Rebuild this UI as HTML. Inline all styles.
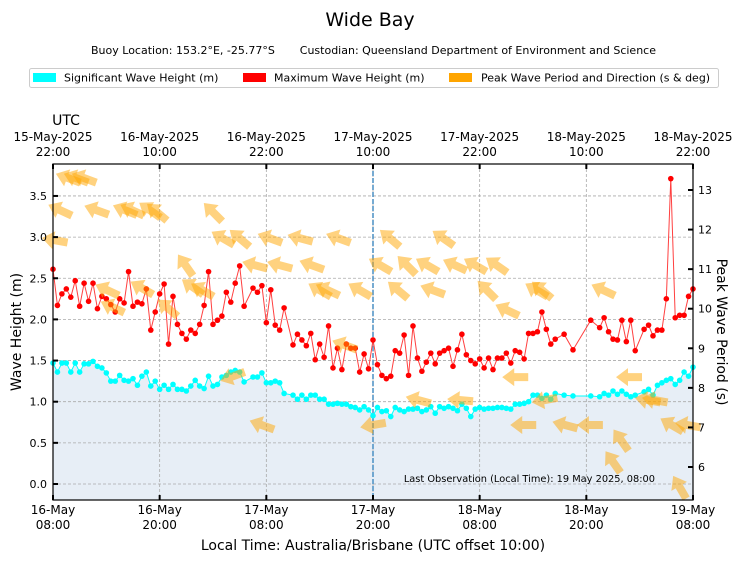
<!DOCTYPE html>
<html><head><meta charset="utf-8"><style>
html,body{margin:0;padding:0;background:#fff;}
svg{display:block;font-family:"DejaVu Sans","Liberation Sans",sans-serif;}
</style></head><body>
<svg id="chart" width="741" height="562" viewBox="0 0 741 562">
<text x="370" y="26" font-size="19" text-anchor="middle">Wide Bay</text>
<text x="91" y="54" font-size="11">Buoy Location: 153.2°E, -25.77°S</text>
<text x="656" y="54" font-size="11" text-anchor="end">Custodian: Queensland Department of Environment and Science</text>
<g>
<rect x="29.5" y="68.5" width="689" height="19" rx="2" fill="#fff" stroke="#ccc"/>
<g><rect x="33" y="73" width="23" height="9" fill="#00ffff"/><text x="64" y="81.5" font-size="11">Significant Wave Height (m)</text></g>
<g><rect x="243" y="73" width="23" height="9" fill="#ff0000"/><text x="274" y="81.5" font-size="11">Maximum Wave Height (m)</text></g>
<g><rect x="449" y="73" width="23" height="9" fill="#ffa500"/><text x="481" y="81.5" font-size="11">Peak Wave Period and Direction (s &amp; deg)</text></g>
</g>
<g id="plot"></g>
</svg>
<script>
// ---- data (hours since 16-May 08:00 local) ----
const hsTimes=[0,0.5,1,1.5,2,2.5,3,3.5,4,4.5,5,5.5,6,6.5,7,7.5,8,8.5,9,9.5,10,10.5,11,11.5,12,12.5,13,13.5,14,14.5,15,15.5,16,16.5,17,17.5,18,18.5,19,19.5,20,20.5,21,21.5,22.5,23,23.5,24,24.5,25,25.5,26,27,27.5,28,28.5,29,29.5,30,30.5,31,31.5,32,32.5,33,33.5,34,34.5,35,35.5,36,36.5,37,37.5,38,38.5,39,39.5,40,40.5,41,41.5,42,42.5,43,43.5,44,44.5,45,45.5,46,46.5,47,47.5,48,48.5,49,49.5,50,50.5,51,51.5,52,52.5,53,53.5,54,54.5,55,55.5,56,56.5,57.5,58.5,60.5,61.5,62,62.5,63,63.5,64,64.5,65,65.5,66.5,67,67.5,68,68.5,69,69.5,70,70.5,71,71.5,72];
const hsValues=[1.47,1.36,1.47,1.47,1.36,1.47,1.36,1.46,1.46,1.49,1.43,1.41,1.35,1.25,1.25,1.32,1.26,1.25,1.28,1.20,1.31,1.36,1.19,1.25,1.15,1.20,1.15,1.21,1.15,1.15,1.13,1.19,1.26,1.19,1.16,1.31,1.19,1.21,1.30,1.32,1.36,1.38,1.36,1.24,1.30,1.30,1.35,1.23,1.23,1.25,1.23,1.10,1.08,1.03,1.08,1.03,1.08,1.08,1.03,1.03,0.97,0.97,0.98,0.97,0.97,0.94,0.93,0.90,0.94,0.90,0.83,0.93,0.88,0.89,0.82,0.93,0.90,0.88,0.91,0.91,0.92,0.88,0.90,0.94,0.86,0.94,0.92,0.94,0.92,0.89,0.97,0.92,0.82,0.91,0.93,0.91,0.92,0.92,0.93,0.93,0.92,0.91,0.97,0.97,0.98,1.00,1.08,1.08,1.04,1.08,1.03,1.10,1.08,1.07,1.07,1.06,1.10,1.08,1.13,1.09,1.13,1.09,1.06,1.08,1.12,1.15,1.08,1.20,1.23,1.26,1.28,1.21,1.26,1.36,1.31,1.42];
const hmaxValues=[2.61,2.17,2.31,2.37,2.27,2.47,2.16,2.44,2.22,2.44,2.13,2.28,2.25,2.18,2.09,2.25,2.20,2.58,2.16,2.21,2.19,2.37,1.87,2.09,2.31,2.43,1.70,2.28,1.94,1.83,1.76,1.87,1.83,1.94,2.17,2.58,1.94,1.99,2.04,2.33,2.21,2.44,2.65,2.16,2.38,2.33,2.41,1.96,2.36,1.93,1.87,2.14,1.69,1.82,1.75,1.68,1.83,1.51,1.70,1.54,1.92,1.41,1.65,1.39,1.70,1.65,1.65,1.36,1.58,1.40,1.75,1.45,1.32,1.28,1.31,1.62,1.59,1.81,1.32,1.92,1.53,1.37,1.48,1.59,1.46,1.59,1.62,1.65,1.43,1.63,1.82,1.57,1.50,1.46,1.52,1.41,1.53,1.39,1.53,1.53,1.59,1.47,1.62,1.60,1.52,1.83,1.83,1.85,2.09,1.88,1.70,1.76,1.82,1.63,1.99,1.90,2.02,1.85,1.76,1.75,1.99,1.73,1.99,1.62,1.88,1.93,1.80,1.87,1.87,2.25,3.71,2.02,2.05,2.05,2.28,2.37];
const arrowHours=[1.7,2.6,3.5,0.8,4.9,8.1,8.9,10.9,11.7,18.0,0.2,19.1,21.0,24.4,27.8,32.1,37.9,43.9,14.9,22.7,25.5,29.1,36.8,39.8,42.1,45.2,47.5,49.9,30.0,30.9,34.5,38.8,42.7,48.8,54.4,55.0,61.9,6.1,6.7,10.0,12.9,15.7,16.8,51.1,32.8,20.2,52.0,64.8,55.3,41.1,45.8,66.9,67.7,23.5,36.0,52.9,57.6,60.4,69.6,71.4,63.9,63.0,70.5];
const arrowPeriods=[13.3,13.3,13.3,12.49,12.49,12.49,12.49,12.49,12.44,12.44,11.73,11.78,11.78,11.78,11.78,11.78,11.78,11.78,11.1,11.1,11.1,11.1,11.1,11.1,11.1,11.1,11.1,11.1,10.47,10.47,10.47,10.47,10.47,10.47,10.47,10.47,10.47,10.47,10.04,10.52,10.02,10.55,10.47,9.96,9.08,8.29,8.27,8.27,7.69,7.69,7.69,7.69,7.69,7.06,7.06,7.06,7.06,7.06,7.06,7.06,6.68,6.13,5.49];
const arrowDirections=[110,110,110,115,110,112,115,125,130,135,100,120,130,110,105,110,130,125,145,105,105,110,120,135,120,115,120,125,120,115,120,130,110,135,120,130,115,115,115,120,130,125,120,115,110,70,90,90,80,105,95,100,100,110,80,90,105,90,120,100,145,145,150];
const xTickHours=[0,12,24,36,48,60,72];
const xTickLocal=[["16-May","08:00"],["16-May","20:00"],["17-May","08:00"],["17-May","20:00"],["18-May","08:00"],["18-May","20:00"],["19-May","08:00"]];
const xTickUTC=[["15-May-2025","22:00"],["16-May-2025","10:00"],["16-May-2025","22:00"],["17-May-2025","10:00"],["17-May-2025","22:00"],["18-May-2025","10:00"],["18-May-2025","22:00"]];
const yTicks=[0,0.5,1,1.5,2,2.5,3,3.5];
const y2Ticks=[6,7,8,9,10,11,12,13];
const markerHour=36;

// ---- axes ----
const L=53,R=693,T=164,B=500;
const X=h=>L+h*(R-L)/72;
const Y=v=>484-v*82.3;
const Y2=p=>467-(p-6)*39.57;
const NS="http://www.w3.org/2000/svg";
const plot=document.getElementById('plot');
function mk(tag,attrs,parent){const e=document.createElementNS(NS,tag);for(const k in attrs)e.setAttribute(k,attrs[k]);(parent||plot).appendChild(e);return e;}

// fill
let fp=`M${X(hsTimes[0])},${B} `+hsTimes.map((t,i)=>`L${X(t)},${Y(hsValues[i])}`).join(' ')+` L${X(hsTimes[hsTimes.length-1])},${B} Z`;
const fill=mk('path',{d:fp,fill:'#e7eef6'});



// grid
yTicks.forEach(v=>{const g=mk('line',{x1:L,x2:R,y1:Y(v),y2:Y(v),stroke:'#aaa','stroke-dasharray':'3,2','stroke-width':0.8});

});
xTickHours.forEach(h=>{const g=mk('line',{x1:X(h),x2:X(h),y1:T,y2:B,stroke:'#aaa','stroke-dasharray':'3,2','stroke-width':0.8});

});

// last observation marker line
const ml=mk('line',{x1:X(markerHour),x2:X(markerHour),y1:T,y2:B,stroke:'#4a8fc4','stroke-dasharray':'5,2','stroke-width':1.5});



// series lines
const cl=mk('polyline',{points:hsTimes.map((t,i)=>`${X(t)},${Y(hsValues[i])}`).join(' '),fill:'none',stroke:'#00ffff','stroke-width':1});


hsTimes.forEach((t,i)=>{const c=mk('circle',{cx:X(t),cy:Y(hsValues[i]),r:2.8,fill:'#00ffff'});

});
const rl=mk('polyline',{points:hsTimes.map((t,i)=>`${X(t)},${Y(hmaxValues[i])}`).join(' '),fill:'none',stroke:'#ff4040','stroke-width':1});


hsTimes.forEach((t,i)=>{const c=mk('circle',{cx:X(t),cy:Y(hmaxValues[i]),r:2.8,fill:'#ff0000'});

});

// arrows
arrowHours.forEach((h,i)=>{
  const cx=X(h),cy=Y2(arrowPeriods[i]);
  const toward=arrowDirections[i]+180;
  const rot=toward-90;
  const a=mk('path',{d:'M13,0 L1,-9 L1,-4 L-13,-4 L-13,4 L1,4 L1,9 Z',fill:'#ffa500','fill-opacity':0.5,transform:`translate(${cx},${cy}) rotate(${rot})`});
  
  
});

// frame
const fr=mk('rect',{x:L,y:T,width:R-L,height:B-T,fill:'none',stroke:'#000','stroke-width':1.2});



yTicks.forEach(v=>{mk('line',{x1:L,x2:L+5,y1:Y(v),y2:Y(v),stroke:'#000','stroke-width':2});
const t=mk('text',{x:L-6,y:Y(v)+4,'font-size':11,'text-anchor':'end'});t.textContent=v.toFixed(1);

});
y2Ticks.forEach(p=>{mk('line',{x1:R-5,x2:R,y1:Y2(p),y2:Y2(p),stroke:'#000','stroke-width':2});
const t=mk('text',{x:R+5,y:Y2(p)+4,'font-size':11});t.textContent=p;

});
xTickHours.forEach((h,i)=>{
  mk('line',{x1:X(h),x2:X(h),y1:B-5,y2:B,stroke:'#000','stroke-width':2});
  mk('line',{x1:X(h),x2:X(h),y1:T,y2:T+5,stroke:'#000','stroke-width':2});
  const t=mk('text',{x:X(h),y:514,'font-size':12,'text-anchor':'middle'});t.textContent=xTickLocal[i][0];
  
  
  const t2=mk('text',{x:X(h),y:529,'font-size':12,'text-anchor':'middle'});t2.textContent=xTickLocal[i][1];
  
  
  const u=mk('text',{x:X(h),y:141,'font-size':12,'text-anchor':'middle'});u.textContent=xTickUTC[i][0];
  
  
  const u2=mk('text',{x:X(h),y:156,'font-size':12,'text-anchor':'middle'});u2.textContent=xTickUTC[i][1];
  
  
});
</script>
<svg width="741" height="562" style="position:absolute;left:0;top:0">
<text x="66" y="125" font-size="14" text-anchor="middle" font-family="DejaVu Sans, sans-serif">UTC</text>
<text x="373" y="550" font-size="14" text-anchor="middle" font-family="DejaVu Sans, sans-serif">Local Time: Australia/Brisbane (UTC offset 10:00)</text>
<text transform="translate(21,332) rotate(-90)" font-size="14" text-anchor="middle" font-family="DejaVu Sans, sans-serif">Wave Height (m)</text>
<text transform="translate(717,332) rotate(90)" font-size="14" text-anchor="middle" font-family="DejaVu Sans, sans-serif">Peak Wave Period (s)</text>
<text x="655" y="482" font-size="9.8" text-anchor="end" font-family="DejaVu Sans, sans-serif">Last Observation (Local Time): 19 May 2025, 08:00</text>
</svg>
</body></html>
